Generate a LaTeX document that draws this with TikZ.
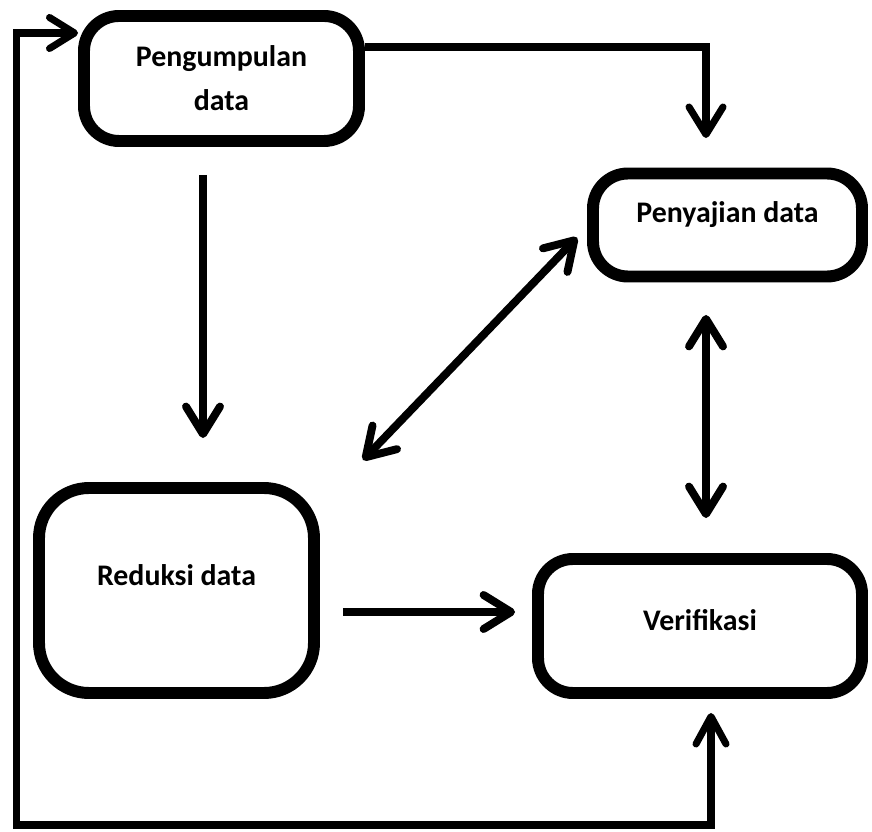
\documentclass[tikz,border=0pt]{standalone}
\usepackage{fontspec}
\setmainfont{Carlito}
\usepackage{tikz}
\usetikzlibrary{positioning,calc,arrows.meta}

\begin{document}
\begin{tikzpicture}[
    box/.style={draw, line width=6.8pt, rounded corners=0.7cm, align=center,
        font=\bfseries\fontsize{17}{25}\selectfont},
    arr/.style={line width=4.5pt, -{Straight Barb[length=0.55cm, width=0.68cm, round]}},
    darr/.style={line width=4.5pt, {Straight Barb[length=0.55cm, width=0.68cm, round]}-{Straight Barb[length=0.55cm, width=0.68cm, round]}},
    loopln/.style={line width=4pt, {Straight Barb[length=0.5cm, width=0.62cm, round]}-{Straight Barb[length=0.55cm, width=0.6cm, round]}}
]
    \useasboundingbox (0,0) rectangle (17.44,-16.64);

    \node[box, minimum width=5.5cm, minimum height=2.5cm] (peng) at (4.43,-1.57) {Pengumpulan\\data};
    \node[box, minimum width=5.38cm, minimum height=2.06cm, text depth=0.5cm] (pen) at (14.55,-4.5) {Penyajian data};
    \node[box, minimum width=5.5cm, minimum height=4.1cm, rounded corners=1cm, text depth=0.6cm] (red) at (3.53,-11.81) {Reduksi data};
    \node[box, minimum width=6.48cm, minimum height=2.68cm, text depth=0.25cm] (ver) at (14.0,-12.52) {Verifikasi};

    \coordinate (lb) at (0.33,-16.5);

    % arrows between the boxes
    \draw[arr, line width=4pt, shorten >=0.59cm] ([yshift=0.63cm]peng.east) -| ([xshift=-0.43cm]pen.north);
    \draw[arr, shorten <=0.56cm, shorten >=0.88cm] ([xshift=-0.37cm]peng.south) -- ([xshift=-0.37cm]peng.south |- red.north);
    \draw[darr] ([shift={(0.86,0.44)}]red.north east) -- ([shift={(-0.2,0.9)}]pen.south west);
    \draw[darr, shorten <=0.65cm, shorten >=0.7cm] ([xshift=-0.43cm]pen.south) -- ([xshift=-0.43cm]pen.south |- ver.north);
    \draw[arr, shorten <=0.46cm, shorten >=0.34cm] ([yshift=-0.43cm]red.east) -- ([yshift=-0.43cm]red.east -| ver.west);

    % feedback loop
    \draw[loopln] ([yshift=0.91cm]peng.west) -| (lb) -| ([xshift=0.22cm, yshift=-0.28cm]ver.south);
\end{tikzpicture}
\end{document}
